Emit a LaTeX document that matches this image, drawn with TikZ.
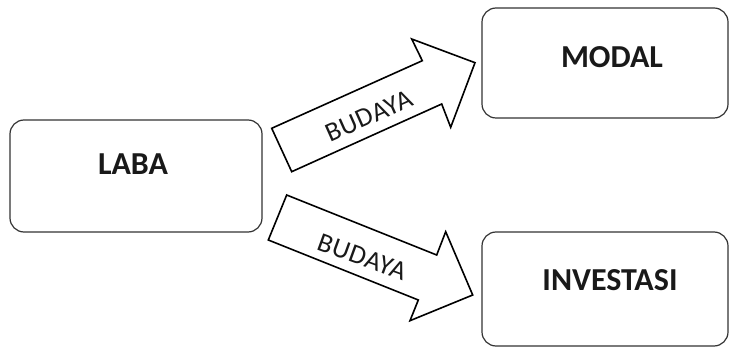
\documentclass[tikz,border=0pt]{standalone}
\usepackage{fontspec}
\setmainfont{Carlito}
\newfontfamily\arrowfont[LetterSpace=3]{Carlito}
\begin{document}
\begin{tikzpicture}[x=1pt,y=-1pt,
  box/.style={draw=black!80,line width=1.2pt,rounded corners=14pt,inner sep=0pt},
  boxlabel/.style={font=\fontsize{32}{35}\selectfont\bfseries,text=black!90,inner sep=0pt},
  blockarrow/.style={draw=black,line width=1.6pt,fill=white,line join=miter},
  arrowlabel/.style={font=\arrowfont\fontsize{27}{30}\selectfont,text=black!90,inner sep=0pt}]
\useasboundingbox (0,0) rectangle (729,347);

% boxes
\node[box,minimum width=252pt,minimum height=112pt] (laba) at (136,176) {};
\node[box,minimum width=246pt,minimum height=110pt] (modal) at (605,63) {};
\node[box,minimum width=246pt,minimum height=114pt] (invest) at (605,289) {};

\node[boxlabel] (labat) at (133,164) {LABA};
\node[boxlabel] (modalt) at (612,57) {MODAL};
\node[boxlabel] (investt) at (610,280) {INVESTASI};

% upper block arrow
\coordinate (u1) at (291.7,171.7);
\coordinate (u2) at (271.7,128.3);
\coordinate (u3) at (422.3,60.7);
\coordinate (u4) at (411.7,39);
\coordinate (u5) at (475,62.7);
\coordinate (u6) at (450.7,127.3);
\coordinate (u7) at (441.7,104);
\draw[blockarrow] (u1) -- (u2) -- (u3) -- (u4) -- (u5) -- (u6) -- (u7) -- cycle;
\node[arrowlabel,rotate=24] (ut) at (369,116) {BUDAYA};

% lower block arrow
\coordinate (l1) at (286.7,195);
\coordinate (l2) at (268.3,240);
\coordinate (l3) at (418.3,300);
\coordinate (l4) at (410,320.7);
\coordinate (l5) at (472.7,295);
\coordinate (l6) at (445.7,231.7);
\coordinate (l7) at (436.7,255);
\draw[blockarrow] (l1) -- (l2) -- (l3) -- (l4) -- (l5) -- (l6) -- (l7) -- cycle;
\node[arrowlabel,rotate=-20] (lt) at (362,257) {BUDAYA};
\end{tikzpicture}
\end{document}
